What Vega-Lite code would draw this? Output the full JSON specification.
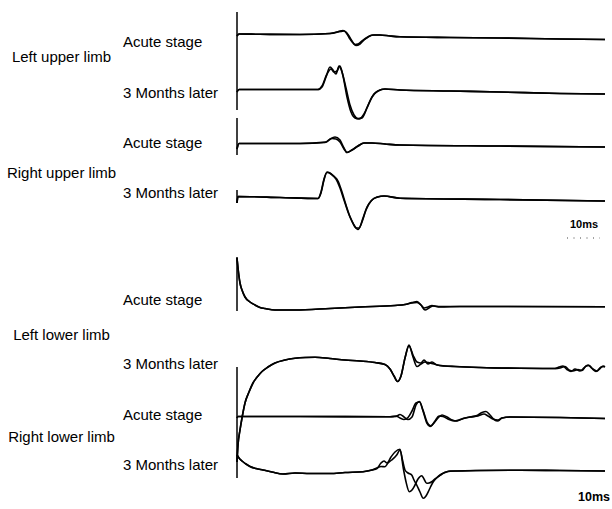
{
"$schema":"https://vega.github.io/schema/vega-lite/v6.json",
"width":612,"height":509,"autosize":"none","padding":0,
"config":{"view":{"stroke":null},"font":"Liberation Sans"},
"datasets":{
"traces":[
{"s":"1A","t":237,"v":36},{"s":"1A","t":239,"v":34},{"s":"1A","t":260,"v":34.3},{"s":"1A","t":300,"v":34.5},{"s":"1A","t":330,"v":33.5},{"s":"1A","t":336,"v":32.5},{"s":"1A","t":340,"v":31},{"s":"1A","t":343,"v":30.5},{"s":"1A","t":346,"v":32},{"s":"1A","t":349,"v":36},{"s":"1A","t":352,"v":41},{"s":"1A","t":355,"v":44.5},{"s":"1A","t":358,"v":44},{"s":"1A","t":362,"v":41},{"s":"1A","t":367,"v":37.5},{"s":"1A","t":372,"v":35},{"s":"1A","t":380,"v":35},{"s":"1A","t":390,"v":36},{"s":"1A","t":400,"v":36.7},{"s":"1A","t":450,"v":37.5},{"s":"1A","t":500,"v":38},{"s":"1A","t":560,"v":39},{"s":"1A","t":605,"v":39.5},
{"s":"1B","t":237,"v":36},{"s":"1B","t":239,"v":34},{"s":"1B","t":260,"v":34.3},{"s":"1B","t":300,"v":34.5},{"s":"1B","t":330,"v":33.5},{"s":"1B","t":337,"v":32},{"s":"1B","t":341,"v":31.5},{"s":"1B","t":344,"v":31},{"s":"1B","t":347,"v":34},{"s":"1B","t":350,"v":39},{"s":"1B","t":353,"v":43},{"s":"1B","t":356,"v":45.5},{"s":"1B","t":360,"v":44},{"s":"1B","t":364,"v":40},{"s":"1B","t":369,"v":36.5},{"s":"1B","t":374,"v":35},{"s":"1B","t":380,"v":35},{"s":"1B","t":390,"v":36},{"s":"1B","t":400,"v":36.7},{"s":"1B","t":450,"v":37.5},{"s":"1B","t":500,"v":38},{"s":"1B","t":560,"v":39},{"s":"1B","t":605,"v":39.5},
{"s":"2A","t":237,"v":92},{"s":"2A","t":239,"v":89.5},{"s":"2A","t":280,"v":89.5},{"s":"2A","t":318,"v":89.5},{"s":"2A","t":322,"v":87},{"s":"2A","t":326,"v":77},{"s":"2A","t":330,"v":67},{"s":"2A","t":333,"v":70},{"s":"2A","t":336,"v":74},{"s":"2A","t":339,"v":66},{"s":"2A","t":342,"v":72},{"s":"2A","t":346,"v":88},{"s":"2A","t":350,"v":105},{"s":"2A","t":354,"v":115},{"s":"2A","t":358,"v":118.5},{"s":"2A","t":362,"v":118},{"s":"2A","t":367,"v":108},{"s":"2A","t":372,"v":97},{"s":"2A","t":378,"v":91},{"s":"2A","t":385,"v":89},{"s":"2A","t":400,"v":90},{"s":"2A","t":450,"v":91},{"s":"2A","t":500,"v":92},{"s":"2A","t":560,"v":93.5},{"s":"2A","t":605,"v":94},
{"s":"2B","t":237,"v":92},{"s":"2B","t":239,"v":89.5},{"s":"2B","t":280,"v":89.5},{"s":"2B","t":318,"v":89.5},{"s":"2B","t":322,"v":86},{"s":"2B","t":327,"v":74},{"s":"2B","t":331,"v":69},{"s":"2B","t":334,"v":72},{"s":"2B","t":337,"v":71},{"s":"2B","t":340,"v":66},{"s":"2B","t":343,"v":76},{"s":"2B","t":347,"v":97},{"s":"2B","t":351,"v":112},{"s":"2B","t":355,"v":118},{"s":"2B","t":359,"v":119},{"s":"2B","t":364,"v":114},{"s":"2B","t":369,"v":103},{"s":"2B","t":374,"v":94},{"s":"2B","t":380,"v":90},{"s":"2B","t":385,"v":89},{"s":"2B","t":400,"v":90},{"s":"2B","t":450,"v":91},{"s":"2B","t":500,"v":92},{"s":"2B","t":560,"v":93.5},{"s":"2B","t":605,"v":94},
{"s":"3A","t":237,"v":149},{"s":"3A","t":239,"v":143.5},{"s":"3A","t":300,"v":143.5},{"s":"3A","t":325,"v":142.5},{"s":"3A","t":330,"v":139},{"s":"3A","t":335,"v":137},{"s":"3A","t":340,"v":140},{"s":"3A","t":344,"v":148},{"s":"3A","t":347,"v":152.5},{"s":"3A","t":352,"v":150},{"s":"3A","t":358,"v":146},{"s":"3A","t":364,"v":143},{"s":"3A","t":372,"v":143},{"s":"3A","t":385,"v":144},{"s":"3A","t":400,"v":145},{"s":"3A","t":500,"v":146},{"s":"3A","t":605,"v":147},
{"s":"3B","t":237,"v":149},{"s":"3B","t":239,"v":143.5},{"s":"3B","t":300,"v":143.5},{"s":"3B","t":326,"v":142},{"s":"3B","t":332,"v":138.5},{"s":"3B","t":336,"v":139},{"s":"3B","t":340,"v":142},{"s":"3B","t":344,"v":149},{"s":"3B","t":347,"v":152.5},{"s":"3B","t":352,"v":150},{"s":"3B","t":358,"v":146},{"s":"3B","t":364,"v":143},{"s":"3B","t":372,"v":143},{"s":"3B","t":385,"v":144},{"s":"3B","t":400,"v":145},{"s":"3B","t":500,"v":146},{"s":"3B","t":605,"v":147},
{"s":"4A","t":237,"v":203},{"s":"4A","t":238,"v":196.5},{"s":"4A","t":280,"v":197.5},{"s":"4A","t":318,"v":198.5},{"s":"4A","t":321,"v":193},{"s":"4A","t":324,"v":180},{"s":"4A","t":327,"v":172},{"s":"4A","t":330,"v":173},{"s":"4A","t":334,"v":176.5},{"s":"4A","t":338,"v":181},{"s":"4A","t":342,"v":192},{"s":"4A","t":346,"v":205},{"s":"4A","t":350,"v":217},{"s":"4A","t":354,"v":225},{"s":"4A","t":358,"v":229.5},{"s":"4A","t":362,"v":222},{"s":"4A","t":366,"v":210},{"s":"4A","t":371,"v":201},{"s":"4A","t":377,"v":197},{"s":"4A","t":384,"v":196},{"s":"4A","t":400,"v":198.3},{"s":"4A","t":500,"v":199.5},{"s":"4A","t":605,"v":201},
{"s":"4B","t":237,"v":203},{"s":"4B","t":238,"v":196.5},{"s":"4B","t":280,"v":197.5},{"s":"4B","t":318,"v":198.5},{"s":"4B","t":321,"v":192},{"s":"4B","t":324,"v":179},{"s":"4B","t":327,"v":172.5},{"s":"4B","t":331,"v":174},{"s":"4B","t":336,"v":179},{"s":"4B","t":340,"v":188},{"s":"4B","t":344,"v":200},{"s":"4B","t":348,"v":212},{"s":"4B","t":352,"v":221},{"s":"4B","t":356,"v":228},{"s":"4B","t":359,"v":228},{"s":"4B","t":363,"v":218},{"s":"4B","t":367,"v":207},{"s":"4B","t":372,"v":200},{"s":"4B","t":378,"v":197},{"s":"4B","t":384,"v":196},{"s":"4B","t":400,"v":198.3},{"s":"4B","t":500,"v":199.5},{"s":"4B","t":605,"v":201},
{"s":"5A","t":237,"v":258},{"s":"5A","t":238,"v":268},{"s":"5A","t":240,"v":283},{"s":"5A","t":242,"v":290},{"s":"5A","t":245,"v":297},{"s":"5A","t":250,"v":302},{"s":"5A","t":255,"v":305},{"s":"5A","t":260,"v":307.5},{"s":"5A","t":265,"v":308.5},{"s":"5A","t":275,"v":310},{"s":"5A","t":295,"v":310},{"s":"5A","t":330,"v":308.5},{"s":"5A","t":360,"v":307},{"s":"5A","t":395,"v":305.5},{"s":"5A","t":405,"v":304.5},{"s":"5A","t":412,"v":302.5},{"s":"5A","t":417,"v":301.5},{"s":"5A","t":421,"v":305},{"s":"5A","t":425,"v":310},{"s":"5A","t":429,"v":308},{"s":"5A","t":433,"v":306},{"s":"5A","t":440,"v":306.5},{"s":"5A","t":460,"v":306.5},{"s":"5A","t":500,"v":306.5},{"s":"5A","t":605,"v":306.8},
{"s":"5B","t":237,"v":258},{"s":"5B","t":238,"v":268},{"s":"5B","t":240,"v":283},{"s":"5B","t":242,"v":290},{"s":"5B","t":245,"v":297},{"s":"5B","t":250,"v":302},{"s":"5B","t":255,"v":305},{"s":"5B","t":260,"v":307.5},{"s":"5B","t":265,"v":308.5},{"s":"5B","t":275,"v":310},{"s":"5B","t":295,"v":310},{"s":"5B","t":330,"v":308.5},{"s":"5B","t":360,"v":307},{"s":"5B","t":395,"v":305.5},{"s":"5B","t":405,"v":304.5},{"s":"5B","t":412,"v":303},{"s":"5B","t":417,"v":302.5},{"s":"5B","t":421,"v":305},{"s":"5B","t":424,"v":308},{"s":"5B","t":428,"v":307},{"s":"5B","t":432,"v":305.5},{"s":"5B","t":436,"v":306.5},{"s":"5B","t":440,"v":307},{"s":"5B","t":460,"v":306.5},{"s":"5B","t":500,"v":306.5},{"s":"5B","t":605,"v":306.8},
{"s":"6A","t":237,"v":462},{"s":"6A","t":238,"v":445},{"s":"6A","t":240,"v":430},{"s":"6A","t":242,"v":418},{"s":"6A","t":245,"v":403},{"s":"6A","t":249,"v":392},{"s":"6A","t":253,"v":383},{"s":"6A","t":258,"v":376},{"s":"6A","t":262,"v":371.5},{"s":"6A","t":268,"v":367},{"s":"6A","t":275,"v":363},{"s":"6A","t":285,"v":360},{"s":"6A","t":295,"v":358.3},{"s":"6A","t":305,"v":357.5},{"s":"6A","t":315,"v":357.3},{"s":"6A","t":330,"v":358.5},{"s":"6A","t":345,"v":360},{"s":"6A","t":360,"v":361},{"s":"6A","t":375,"v":362.5},{"s":"6A","t":385,"v":364.5},{"s":"6A","t":390,"v":369},{"s":"6A","t":394,"v":376},{"s":"6A","t":397.5,"v":381.5},{"s":"6A","t":401,"v":376},{"s":"6A","t":405,"v":358},{"s":"6A","t":409,"v":345},{"s":"6A","t":413,"v":357},{"s":"6A","t":417,"v":366.5},{"s":"6A","t":421,"v":364},{"s":"6A","t":425,"v":362},{"s":"6A","t":430,"v":363},{"s":"6A","t":440,"v":365.5},{"s":"6A","t":455,"v":366.5},{"s":"6A","t":480,"v":367.5},{"s":"6A","t":520,"v":368.3},{"s":"6A","t":555,"v":368.5},{"s":"6A","t":559,"v":367},{"s":"6A","t":563,"v":366},{"s":"6A","t":567,"v":369.5},{"s":"6A","t":571,"v":371.5},{"s":"6A","t":575,"v":369},{"s":"6A","t":580,"v":371},{"s":"6A","t":584,"v":368},{"s":"6A","t":588,"v":365},{"s":"6A","t":592,"v":368.5},{"s":"6A","t":596,"v":371.5},{"s":"6A","t":600,"v":368.5},{"s":"6A","t":603,"v":366},{"s":"6A","t":605,"v":367},
{"s":"6B","t":237,"v":462},{"s":"6B","t":238,"v":445},{"s":"6B","t":240,"v":430},{"s":"6B","t":242,"v":418},{"s":"6B","t":245,"v":403},{"s":"6B","t":249,"v":392},{"s":"6B","t":253,"v":383},{"s":"6B","t":258,"v":376},{"s":"6B","t":262,"v":371.5},{"s":"6B","t":268,"v":367},{"s":"6B","t":275,"v":363},{"s":"6B","t":285,"v":360},{"s":"6B","t":295,"v":358.3},{"s":"6B","t":305,"v":357.5},{"s":"6B","t":315,"v":357.3},{"s":"6B","t":330,"v":358.5},{"s":"6B","t":345,"v":360},{"s":"6B","t":360,"v":361},{"s":"6B","t":375,"v":362.5},{"s":"6B","t":385,"v":364.5},{"s":"6B","t":390,"v":369},{"s":"6B","t":394,"v":376},{"s":"6B","t":397.5,"v":381.5},{"s":"6B","t":401,"v":376},{"s":"6B","t":405,"v":358},{"s":"6B","t":409,"v":346},{"s":"6B","t":413,"v":355},{"s":"6B","t":417,"v":362},{"s":"6B","t":421,"v":363},{"s":"6B","t":424,"v":360},{"s":"6B","t":428,"v":364},{"s":"6B","t":432,"v":362},{"s":"6B","t":437,"v":365},{"s":"6B","t":445,"v":366},{"s":"6B","t":455,"v":366.5},{"s":"6B","t":480,"v":367.5},{"s":"6B","t":520,"v":368.3},{"s":"6B","t":555,"v":368.5},{"s":"6B","t":560,"v":368},{"s":"6B","t":565,"v":366.5},{"s":"6B","t":569,"v":370},{"s":"6B","t":573,"v":371},{"s":"6B","t":578,"v":369.5},{"s":"6B","t":582,"v":370.5},{"s":"6B","t":586,"v":366},{"s":"6B","t":589,"v":365.5},{"s":"6B","t":593,"v":369},{"s":"6B","t":597,"v":371},{"s":"6B","t":601,"v":367},{"s":"6B","t":605,"v":366.5},
{"s":"7A","t":237,"v":418},{"s":"7A","t":238,"v":416.5},{"s":"7A","t":300,"v":416.5},{"s":"7A","t":390,"v":416.7},{"s":"7A","t":396,"v":416.5},{"s":"7A","t":400,"v":414.5},{"s":"7A","t":404,"v":417},{"s":"7A","t":408,"v":419.5},{"s":"7A","t":412,"v":417},{"s":"7A","t":416,"v":405},{"s":"7A","t":419.5,"v":401.5},{"s":"7A","t":423,"v":411},{"s":"7A","t":427,"v":423.5},{"s":"7A","t":430,"v":426.5},{"s":"7A","t":434,"v":423},{"s":"7A","t":438,"v":418},{"s":"7A","t":442,"v":415},{"s":"7A","t":447,"v":417},{"s":"7A","t":452,"v":420},{"s":"7A","t":457,"v":421},{"s":"7A","t":463,"v":418.5},{"s":"7A","t":470,"v":417},{"s":"7A","t":477,"v":415.5},{"s":"7A","t":482,"v":412.5},{"s":"7A","t":486,"v":411.5},{"s":"7A","t":490,"v":415},{"s":"7A","t":494,"v":419.5},{"s":"7A","t":498,"v":421},{"s":"7A","t":502,"v":418},{"s":"7A","t":510,"v":417},{"s":"7A","t":560,"v":417.5},{"s":"7A","t":605,"v":418.5},
{"s":"7B","t":237,"v":418},{"s":"7B","t":238,"v":416.5},{"s":"7B","t":300,"v":416.5},{"s":"7B","t":390,"v":416.7},{"s":"7B","t":396,"v":416},{"s":"7B","t":400,"v":418},{"s":"7B","t":404,"v":419.5},{"s":"7B","t":408,"v":417.5},{"s":"7B","t":412,"v":411},{"s":"7B","t":416,"v":403},{"s":"7B","t":419.5,"v":402},{"s":"7B","t":423,"v":410},{"s":"7B","t":427,"v":422},{"s":"7B","t":431,"v":426},{"s":"7B","t":435,"v":421},{"s":"7B","t":439,"v":416},{"s":"7B","t":443,"v":416.5},{"s":"7B","t":449,"v":419.5},{"s":"7B","t":455,"v":421},{"s":"7B","t":462,"v":419},{"s":"7B","t":470,"v":417},{"s":"7B","t":478,"v":416},{"s":"7B","t":484,"v":414},{"s":"7B","t":488,"v":416},{"s":"7B","t":493,"v":419},{"s":"7B","t":498,"v":420},{"s":"7B","t":502,"v":418},{"s":"7B","t":510,"v":417},{"s":"7B","t":560,"v":417.5},{"s":"7B","t":605,"v":418.5},
{"s":"8A","t":237,"v":455},{"s":"8A","t":239,"v":458},{"s":"8A","t":242,"v":461},{"s":"8A","t":246,"v":464},{"s":"8A","t":250,"v":466.5},{"s":"8A","t":256,"v":468.5},{"s":"8A","t":263,"v":470},{"s":"8A","t":272,"v":472},{"s":"8A","t":283,"v":474},{"s":"8A","t":295,"v":473},{"s":"8A","t":310,"v":473.5},{"s":"8A","t":330,"v":473.5},{"s":"8A","t":345,"v":472.5},{"s":"8A","t":363,"v":471.7},{"s":"8A","t":372,"v":470},{"s":"8A","t":377,"v":468.5},{"s":"8A","t":381,"v":463},{"s":"8A","t":384,"v":461},{"s":"8A","t":387,"v":463},{"s":"8A","t":391,"v":457},{"s":"8A","t":395,"v":452},{"s":"8A","t":400,"v":449.3},{"s":"8A","t":403.3,"v":468.3},{"s":"8A","t":406,"v":481.7},{"s":"8A","t":409.3,"v":491.7},{"s":"8A","t":412,"v":490},{"s":"8A","t":415,"v":485},{"s":"8A","t":418,"v":479},{"s":"8A","t":421.7,"v":475.7},{"s":"8A","t":424,"v":479},{"s":"8A","t":426.7,"v":483.3},{"s":"8A","t":429,"v":483},{"s":"8A","t":431.7,"v":481.7},{"s":"8A","t":435,"v":479},{"s":"8A","t":438.3,"v":476.7},{"s":"8A","t":442,"v":474},{"s":"8A","t":446.7,"v":471.7},{"s":"8A","t":456.7,"v":471},{"s":"8A","t":480,"v":470.5},{"s":"8A","t":520,"v":470.2},{"s":"8A","t":560,"v":470.5},{"s":"8A","t":605,"v":471},
{"s":"8B","t":237,"v":455},{"s":"8B","t":239,"v":458},{"s":"8B","t":242,"v":461},{"s":"8B","t":246,"v":464},{"s":"8B","t":250,"v":466.5},{"s":"8B","t":256,"v":468.5},{"s":"8B","t":263,"v":470},{"s":"8B","t":272,"v":472},{"s":"8B","t":283,"v":474},{"s":"8B","t":295,"v":473},{"s":"8B","t":310,"v":473.5},{"s":"8B","t":330,"v":473.5},{"s":"8B","t":345,"v":472.5},{"s":"8B","t":363,"v":471.7},{"s":"8B","t":372,"v":470},{"s":"8B","t":377,"v":468},{"s":"8B","t":381,"v":466.5},{"s":"8B","t":385,"v":466.7},{"s":"8B","t":388,"v":463},{"s":"8B","t":391.7,"v":460},{"s":"8B","t":396.7,"v":455},{"s":"8B","t":400,"v":450},{"s":"8B","t":402.5,"v":460},{"s":"8B","t":405,"v":470},{"s":"8B","t":408,"v":473},{"s":"8B","t":411.7,"v":475},{"s":"8B","t":414,"v":480},{"s":"8B","t":416.7,"v":485},{"s":"8B","t":420,"v":492},{"s":"8B","t":423.3,"v":498.3},{"s":"8B","t":426,"v":496},{"s":"8B","t":428.3,"v":491.7},{"s":"8B","t":430.5,"v":487},{"s":"8B","t":433.3,"v":481.7},{"s":"8B","t":436.5,"v":478},{"s":"8B","t":440,"v":475},{"s":"8B","t":445,"v":472.5},{"s":"8B","t":450,"v":471},{"s":"8B","t":456.7,"v":471},{"s":"8B","t":480,"v":470.5},{"s":"8B","t":520,"v":470.2},{"s":"8B","t":560,"v":470.5},{"s":"8B","t":605,"v":471}
],
"artifacts":[
{"t":237,"v":12,"v2":110},{"t":237,"v":118,"v2":155},{"t":237,"v":190,"v2":203},{"t":237,"v":257,"v2":311},{"t":237,"v":367,"v2":478}
],
"stages":[
{"label":"Acute stage","t":123,"v":42},{"label":"3 Months later","t":123,"v":93},{"label":"Acute stage","t":123,"v":143},{"label":"3 Months later","t":123,"v":193},{"label":"Acute stage","t":123,"v":300},{"label":"3 Months later","t":123,"v":364},{"label":"Acute stage","t":123,"v":415},{"label":"3 Months later","t":123,"v":465}
],
"limbs":[
{"label":"Left upper limb","t":61.5,"v":57},{"label":"Right upper limb","t":61.5,"v":172.5},{"label":"Left lower limb","t":61.5,"v":335},{"label":"Right lower limb","t":61.5,"v":437}
],
"bars":[{"t":567,"t2":600,"v":238}],
"barlabels":[{"label":"10ms","t":584,"v":225,"size":11},{"label":"10ms","t":594,"v":497,"size":12.5}]
},
"layer":[
{"data":{"name":"artifacts"},"mark":{"type":"rule","color":"#000","strokeWidth":1.5},
 "encoding":{"x":{"field":"t","type":"quantitative","scale":{"domain":[0,612],"nice":false,"zero":false},"axis":null},
 "y":{"field":"v","type":"quantitative","scale":{"domain":[0,509],"nice":false,"zero":false,"reverse":true},"axis":null},
 "y2":{"field":"v2"}}},
{"data":{"name":"traces"},"mark":{"type":"line","color":"#000","strokeWidth":1.6,"interpolate":"monotone"},
 "encoding":{"x":{"field":"t","type":"quantitative","scale":{"domain":[0,612],"nice":false,"zero":false},"axis":null},
 "y":{"field":"v","type":"quantitative","scale":{"domain":[0,509],"nice":false,"zero":false,"reverse":true},"axis":null},
 "detail":{"field":"s","type":"nominal"}}},
{"data":{"name":"stages"},"mark":{"type":"text","align":"left","baseline":"middle","fontSize":15,"color":"#000","font":"Liberation Sans"},
 "encoding":{"x":{"field":"t","type":"quantitative","scale":{"domain":[0,612],"nice":false,"zero":false},"axis":null},
 "y":{"field":"v","type":"quantitative","scale":{"domain":[0,509],"nice":false,"zero":false,"reverse":true},"axis":null},
 "text":{"field":"label"}}},
{"data":{"name":"limbs"},"mark":{"type":"text","align":"center","baseline":"middle","fontSize":15,"color":"#000","font":"Liberation Sans"},
 "encoding":{"x":{"field":"t","type":"quantitative","scale":{"domain":[0,612],"nice":false,"zero":false},"axis":null},
 "y":{"field":"v","type":"quantitative","scale":{"domain":[0,509],"nice":false,"zero":false,"reverse":true},"axis":null},
 "text":{"field":"label"}}},
{"data":{"name":"bars"},"mark":{"type":"rule","color":"#444","strokeWidth":1,"strokeDash":[1,5.5]},
 "encoding":{"x":{"field":"t","type":"quantitative","scale":{"domain":[0,612],"nice":false,"zero":false},"axis":null},
 "x2":{"field":"t2"},
 "y":{"field":"v","type":"quantitative","scale":{"domain":[0,509],"nice":false,"zero":false,"reverse":true},"axis":null}}},
{"data":{"name":"barlabels"},"mark":{"type":"text","align":"center","baseline":"middle","fontWeight":"bold","color":"#000","font":"Liberation Sans"},
 "encoding":{"x":{"field":"t","type":"quantitative","scale":{"domain":[0,612],"nice":false,"zero":false},"axis":null},
 "y":{"field":"v","type":"quantitative","scale":{"domain":[0,509],"nice":false,"zero":false,"reverse":true},"axis":null},
 "text":{"field":"label"},
 "size":{"field":"size","type":"quantitative","scale":null,"legend":null}}}
]
}
